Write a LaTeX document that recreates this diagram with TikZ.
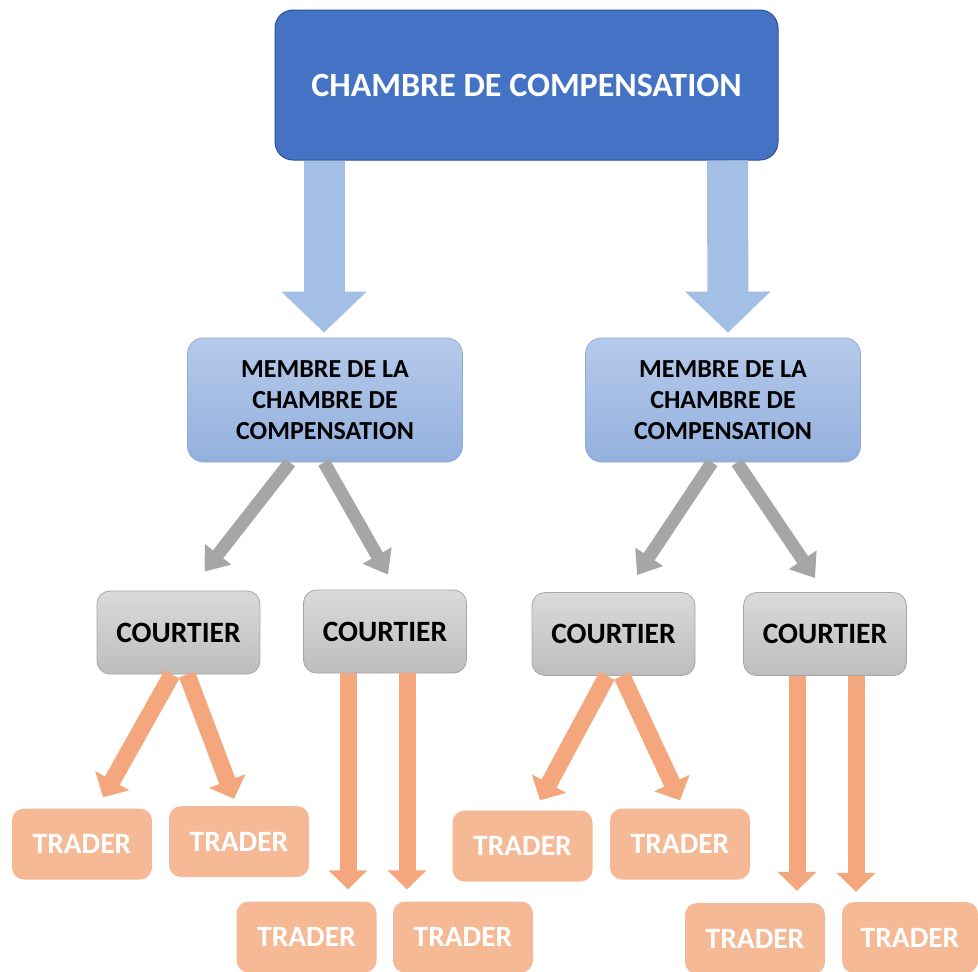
\documentclass[tikz,border=0pt]{standalone}
\usepackage{fontspec}
\setmainfont{Carlito}
\usetikzlibrary{arrows.meta}

\definecolor{chambreblue}{HTML}{4472C4}
\definecolor{chambreedge}{HTML}{2F528F}
\definecolor{membretop}{HTML}{B6CAEA}
\definecolor{membrebot}{HTML}{93B0DE}
\definecolor{membreedge}{HTML}{8FAADC}
\definecolor{courtiertop}{HTML}{DADADA}
\definecolor{courtierbot}{HTML}{BDBDBD}
\definecolor{courtieredge}{HTML}{A6A6A6}
\definecolor{traderfill}{HTML}{F5B995}
\definecolor{flecheorange}{HTML}{F4A77C}
\definecolor{flecheblue}{HTML}{A3BFE6}
\definecolor{flechegray}{HTML}{A6A6A6}

\tikzset{
  chambre/.style={rounded corners=18pt, fill=chambreblue, draw=chambreedge, line width=1pt,
    text=white, font=\bfseries\fontsize{34}{40}\selectfont, minimum width=503pt, minimum height=150pt},
  membre/.style={rounded corners=16pt, top color=membretop, bottom color=membrebot, draw=membreedge,
    line width=0.8pt, align=center, font=\bfseries\fontsize{26}{31}\selectfont,
    minimum width=275pt, minimum height=124pt},
  courtier/.style={rounded corners=13pt, top color=courtiertop, bottom color=courtierbot, draw=courtieredge,
    line width=0.8pt, font=\bfseries\fontsize{29.5}{34}\selectfont, minimum width=163pt, minimum height=83pt},
  trader/.style={rounded corners=12pt, fill=traderfill, text=white,
    font=\bfseries\fontsize{29.5}{34}\selectfont, minimum width=140pt, minimum height=71pt},
  bluearrow/.style={line width=41pt, draw=flecheblue, -{Triangle[width=83pt,length=41pt]}},
  grayarrow/.style={line width=13pt, draw=flechegray, -{Triangle[width=32pt,length=22pt]}},
  orangearrow/.style={line width=17pt, draw=flecheorange, -{Triangle[width=38pt,length=19pt]}}
}

\begin{document}
\begin{tikzpicture}[x=1pt,y=-1pt]
    \useasboundingbox (0,0) rectangle (978,972);

    \node[chambre] (CH) at (526.5,85) {CHAMBRE DE COMPENSATION};

    \node[membre] (M1) at (325,400) {MEMBRE DE LA\\CHAMBRE DE\\COMPENSATION};
    \node[membre] (M2) at (723,400) {MEMBRE DE LA\\CHAMBRE DE\\COMPENSATION};

    \node[courtier] (C1) at (178.5,632.5) {COURTIER};
    \node[courtier] (C2) at (385,631.5) {COURTIER};
    \node[courtier] (C3) at (613.5,634) {COURTIER};
    \node[courtier] (C4) at (825,634) {COURTIER};

    \node[trader] (T1) at (82,844) {TRADER};
    \node[trader] (T2) at (239,841.5) {TRADER};
    \node[trader] (T3) at (522.5,846) {TRADER};
    \node[trader] (T4) at (680,844) {TRADER};
    \node[trader] (T5) at (306.5,937) {TRADER};
    \node[trader] (T6) at (463,937) {TRADER};
    \node[trader] (T7) at (755,938.5) {TRADER};
    \node[trader, minimum width=136pt] (T8) at (910,937.5) {TRADER};

    % chambre -> membres
    \draw[bluearrow] ([xshift=-202.5pt]CH.south) -- ([xshift=-1pt,yshift=5pt]M1.north);
    \draw[bluearrow] ([xshift=201pt]CH.south) -- ([xshift=5pt,yshift=5pt]M2.north);

    % membres -> courtiers
    \draw[grayarrow] ([xshift=-35pt]M1.south) -- ([xshift=26pt,yshift=19pt]C1.north);
    \draw[grayarrow] ([xshift=-1pt]M1.south) -- ([xshift=3pt,yshift=15pt]C2.north);
    \draw[grayarrow] ([xshift=-11pt]M2.south) -- ([xshift=23.5pt,yshift=17pt]C3.north);
    \draw[grayarrow] ([xshift=14pt]M2.south) -- ([xshift=-10pt,yshift=14pt]C4.north);

    % courtiers -> traders
    \draw[orangearrow] ([xshift=-6.5pt]C1.south) -- ([xshift=21pt,yshift=11pt]T1.north);
    \draw[orangearrow] ([xshift=8.5pt]C1.south) -- ([xshift=-5pt,yshift=7pt]T2.north);
    \draw[orangearrow] ([xshift=-37pt]C2.south) -- ([xshift=41.5pt,yshift=12pt]T5.north);
    \draw[orangearrow] ([xshift=22pt]C2.south) -- ([xshift=-56pt,yshift=12pt]T6.north);
    \draw[orangearrow] ([xshift=-6.5pt]C3.south) -- ([xshift=17.5pt,yshift=10pt]T3.north);
    \draw[orangearrow] ([xshift=8.5pt]C3.south) -- ([yshift=8pt]T4.north);
    \draw[orangearrow] ([xshift=-28pt]C4.south) -- ([xshift=42pt,yshift=12pt]T7.north);
    \draw[orangearrow] ([xshift=31pt]C4.south) -- ([xshift=-54pt,yshift=10pt]T8.north);
\end{tikzpicture}
\end{document}
